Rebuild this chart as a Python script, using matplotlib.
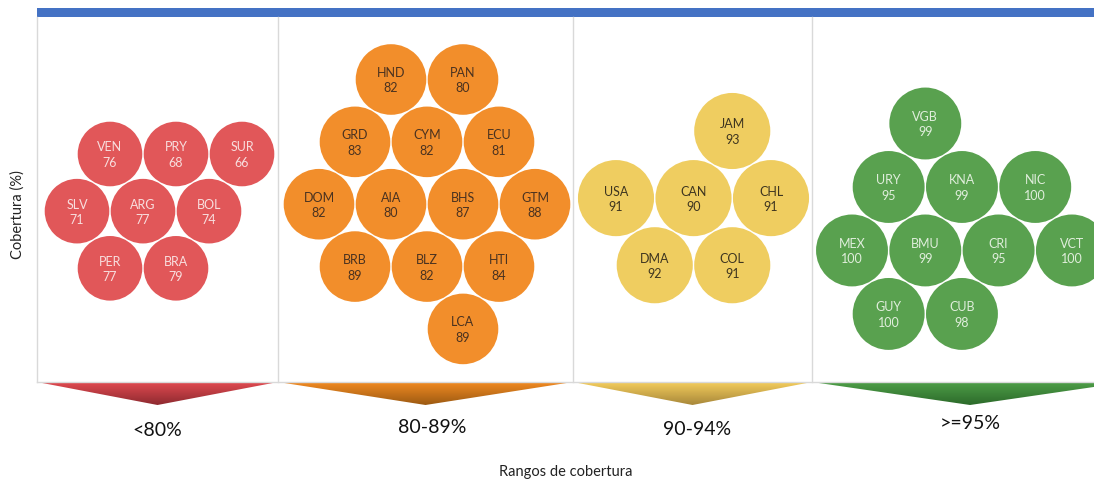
import numpy as np
import matplotlib
matplotlib.use("Agg")
import matplotlib.pyplot as plt
from matplotlib.patches import Circle, Polygon
from matplotlib.colors import to_rgb

# Data
range_labels = ["<80%", "80-89%", "90-94%", ">=95%"]

red_codes = ["VEN", "PRY", "SUR", "SLV", "ARG", "BOL", "PER", "BRA"]
red_values = [76, 68, 66, 71, 77, 74, 77, 79]

orange_codes = ["HND", "PAN", "GRD", "CYM", "ECU", "DOM", "AIA", "BHS", "GTM",
                "BRB", "BLZ", "HTI", "LCA"]
orange_values = [82, 80, 83, 82, 81, 82, 80, 87, 88, 89, 82, 84, 89]

yellow_codes = ["JAM", "USA", "CAN", "CHL", "DMA", "COL"]
yellow_values = [93, 91, 90, 91, 92, 91]

green_codes = ["VGB", "URY", "KNA", "NIC", "MEX", "BMU", "CRI", "VCT", "GUY", "CUB"]
green_values = [99, 95, 99, 100, 100, 99, 95, 100, 100, 98]

# Layout (hex-grid slots: (row, half-column)) and panel styling
layouts = [
    dict(codes=red_codes, values=red_values, x0=77, y0=155, d=66,
         slots=[(0, 1), (0, 3), (0, 5), (1, 0), (1, 2), (1, 4), (2, 1), (2, 3)],
         color="#E15759", text="#F8DEDE", tri=("#E04A50", "#8E2A30")),
    dict(codes=orange_codes, values=orange_values, x0=319, y0=80.5, d=72,
         slots=[(0, 2), (0, 4), (1, 1), (1, 3), (1, 5), (2, 0), (2, 2), (2, 4), (2, 6),
                (3, 1), (3, 3), (3, 5), (4, 4)],
         color="#F28E2B", text="#4A3220", tri=("#F18A22", "#9C5A12")),
    dict(codes=yellow_codes, values=yellow_values, x0=616, y0=132, d=77.5,
         slots=[(0, 3), (1, 0), (1, 2), (1, 4), (2, 1), (2, 3)],
         color="#EFCD60", text="#3E3520", tri=("#F3CC5C", "#A8883A")),
    dict(codes=green_codes, values=green_values, x0=852, y0=124.5, d=73.3,
         slots=[(0, 2), (1, 1), (1, 3), (1, 5), (2, 0), (2, 2), (2, 4), (2, 6),
                (3, 1), (3, 3)],
         color="#59A14F", text="#E0EEDC", tri=("#4E9E48", "#2C6A2A")),
]
panel_edges = [37, 278, 573, 812, 1128]
label_x = [157, 432, 697, 970]
label_y = [431, 428, 430, 424]

W, H = 1094, 481
fig = plt.figure(figsize=(W / 100, H / 100), dpi=100)
ax = fig.add_axes([0, 0, 1, 1])
ax.axis("off")

# blue top bar
ax.add_patch(Polygon([(37, 9), (W, 9), (W, 17.5), (37, 17.5)], closed=True,
                     color="#4472C4", lw=0))

# panel borders
grid = "#D9D9D9"
for x in panel_edges[:-1]:
    ax.plot([x, x], [17.5, 383], color=grid, lw=1)
ax.plot([37, W], [383, 383], color=grid, lw=1)

for i, lay in enumerate(layouts):
    d = lay["d"]
    for (row, col), code, val in zip(lay["slots"], lay["codes"], lay["values"]):
        cx = lay["x0"] + col * d / 2
        cy = lay["y0"] + row * d * np.sqrt(3) / 2
        ax.add_patch(Circle((cx, cy), d / 2 - 0.7, color=lay["color"], lw=0))
        ax.text(cx, cy - 7.5, code, ha="center", va="center", fontsize=9,
                color=lay["text"], family="Lato")
        ax.text(cx, cy + 8, str(val), ha="center", va="center", fontsize=9,
                color=lay["text"], family="Lato")

    # gradient triangle under the panel
    left, right = panel_edges[i], panel_edges[i + 1]
    mid = (left + right) / 2
    tri = Polygon([(left, 383), (right, 383), (mid, 406)], closed=True,
                  facecolor="none", edgecolor="none")
    ax.add_patch(tri)
    c0, c1 = np.array(to_rgb(lay["tri"][0])), np.array(to_rgb(lay["tri"][1]))
    t = np.linspace(0, 1, 64)[:, None]
    grad = (c0 * (1 - t) + c1 * t)[:, None, :]
    im = ax.imshow(grad, extent=(left, right, 406, 383), origin="upper",
                   aspect="auto", interpolation="bilinear")
    im.set_clip_path(tri)

    ax.text(label_x[i], label_y[i], range_labels[i], ha="center",
            va="center", fontsize=14, family="Lato", color="#111111")

ax.text(566, 472, "Rangos de cobertura", ha="center", va="center",
        fontsize=10.5, family="Lato", color="#222222")
ax.text(18, 215, "Cobertura (%)", ha="center", va="center", rotation=90,
        fontsize=10.5, family="Lato", color="#222222")

ax.set_xlim(0, W)
ax.set_ylim(H, 0)
fig.savefig("out.png", dpi=100)
